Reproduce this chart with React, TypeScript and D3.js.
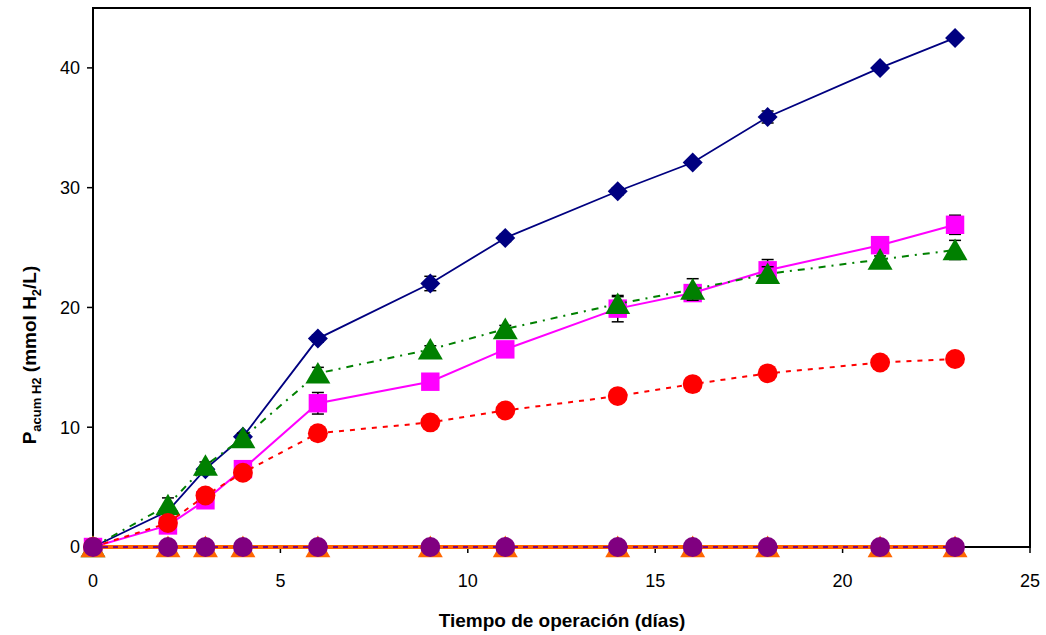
import React from "react";
import * as d3 from "d3";

// days of operation
const dias = [0, 2, 3, 4, 6, 9, 11, 14, 16, 18, 21, 23];

const serieAzul = [0, 3.0, 6.5, 9.2, 17.4, 22.0, 25.8, 29.7, 32.1, 35.9, 40.0, 42.5];
const errAzul = [0, 0.2, 0.3, 0.3, 0.3, 0.6, 0.3, 0.3, 0.2, 0.5, 0.2, 0.2];

const serieMagenta = [0, 1.8, 3.9, 6.5, 12.0, 13.8, 16.5, 19.9, 21.2, 23.1, 25.2, 26.9];
const errMagenta = [0, 0.3, 0.3, 0.3, 0.9, 0.3, 0.3, 1.1, 0.5, 0.9, 0.3, 0.8];

const serieVerde = [0, 3.5, 6.8, 9.1, 14.5, 16.5, 18.2, 20.3, 21.5, 22.8, 24.0, 24.8];
const errVerde = [0, 0.6, 0.3, 0.4, 0.5, 0.3, 0.3, 0.6, 0.9, 0.6, 0.3, 0.8];

const serieRoja = [0, 2.0, 4.3, 6.2, 9.5, 10.4, 11.4, 12.6, 13.6, 14.5, 15.4, 15.7];
const errRoja = [0, 0.3, 0.3, 0.3, 0.3, 0.3, 0.3, 0.4, 0.3, 0.3, 0.3, 0.4];

const serieNaranja = [0, 0, 0, 0, 0, 0, 0, 0, 0, 0, 0, 0];
const serieMorada = [0, 0, 0, 0, 0, 0, 0, 0, 0, 0, 0, 0];

const xTicks = [0, 5, 10, 15, 20, 25];
const yTicks = [0, 10, 20, 30, 40];

const W = 1046;
const H = 635;
const left = 93;
const right = 1030;
const top = 8;
const bottom = 547;

const x = d3.scaleLinear().domain([0, 25]).range([left, right]);
const y = d3.scaleLinear().domain([0, 45]).range([bottom, top]);

type Serie = {
  vals: number[];
  err?: number[];
  color: string;
  width: number;
  dash?: string;
  marker: "diamond" | "square" | "triangle" | "circle";
};

const series: Serie[] = [
  { vals: serieAzul, err: errAzul, color: "#000080", width: 1.8, marker: "diamond" },
  { vals: serieMagenta, err: errMagenta, color: "#ff00ff", width: 2, marker: "square" },
  { vals: serieVerde, err: errVerde, color: "#008000", width: 2, dash: "7,6,2,6", marker: "triangle" },
  { vals: serieRoja, err: errRoja, color: "#ff0000", width: 2, dash: "5,6", marker: "circle" },
  { vals: serieNaranja, color: "#ff6600", width: 4, marker: "triangle" },
  { vals: serieMorada, color: "#800080", width: 2, dash: "5,5", marker: "circle" },
];

const symbolPath = (m: Serie["marker"]) => {
  if (m === "diamond") return d3.symbol(d3.symbolSquare, 200)();
  if (m === "square") return d3.symbol(d3.symbolSquare, 340)();
  if (m === "triangle") return d3.symbol(d3.symbolTriangle, 270)();
  return d3.symbol(d3.symbolCircle, 310)();
};

export default function App() {
  const line = d3
    .line<number>()
    .x((_, i) => x(dias[i]))
    .y((d) => y(d));

  return (
    <svg
      width={W}
      height={H}
      style={{ position: "absolute", left: 0, top: 0, background: "#fff" }}
      fontFamily="'Liberation Sans', Arial, sans-serif"
    >
      {/* frame */}
      <rect x={left} y={top} width={right - left} height={bottom - top} fill="none" stroke="#000" strokeWidth={2} />

      {/* y ticks */}
      {yTicks.map((t) => (
        <g key={"y" + t}>
          <line x1={left - 6} x2={left} y1={y(t)} y2={y(t)} stroke="#000" strokeWidth={1.5} />
          <text x={left - 13} y={y(t)} dy="0.35em" textAnchor="end" fontSize={18}>
            {t}
          </text>
        </g>
      ))}

      {/* x ticks */}
      {xTicks.map((t) => (
        <g key={"x" + t}>
          <line x1={x(t)} x2={x(t)} y1={bottom} y2={bottom + 6} stroke="#000" strokeWidth={1.5} />
          <text x={x(t)} y={bottom + 40} textAnchor="middle" fontSize={18}>
            {t}
          </text>
        </g>
      ))}

      {series.map((s, si) => (
        <g key={si}>
          <path d={line(s.vals) || ""} fill="none" stroke={s.color} strokeWidth={s.width} strokeDasharray={s.dash} />
          {s.err &&
            s.vals.map((v, i) =>
              s.err![i] > 0 ? (
                <g key={i} stroke="#000" strokeWidth={1.5}>
                  <line x1={x(dias[i])} x2={x(dias[i])} y1={y(v - s.err![i])} y2={y(v + s.err![i])} />
                  <line x1={x(dias[i]) - 6} x2={x(dias[i]) + 6} y1={y(v - s.err![i])} y2={y(v - s.err![i])} />
                  <line x1={x(dias[i]) - 6} x2={x(dias[i]) + 6} y1={y(v + s.err![i])} y2={y(v + s.err![i])} />
                </g>
              ) : null
            )}
          {s.vals.map((v, i) => (
            <path
              key={"m" + i}
              d={symbolPath(s.marker) || ""}
              transform={`translate(${x(dias[i])},${y(v) + (s.marker === "triangle" ? 3 : 0)})${
                s.marker === "diamond" ? " rotate(45)" : ""
              }`}
              fill={s.color}
            />
          ))}
        </g>
      ))}

      {/* axis titles */}
      <text x={562} y={627} textAnchor="middle" fontSize={19} fontWeight="bold">
        Tiempo de operación (días)
      </text>
      <text transform="translate(36,355) rotate(-90)" textAnchor="middle" fontSize={19} fontWeight="bold">
        P
        <tspan fontSize={13} dy={5}>acum H2</tspan>
        <tspan dy={-5}> (mmol H</tspan>
        <tspan fontSize={13} dy={5}>2</tspan>
        <tspan dy={-5}>/L)</tspan>
      </text>
    </svg>
  );
}
